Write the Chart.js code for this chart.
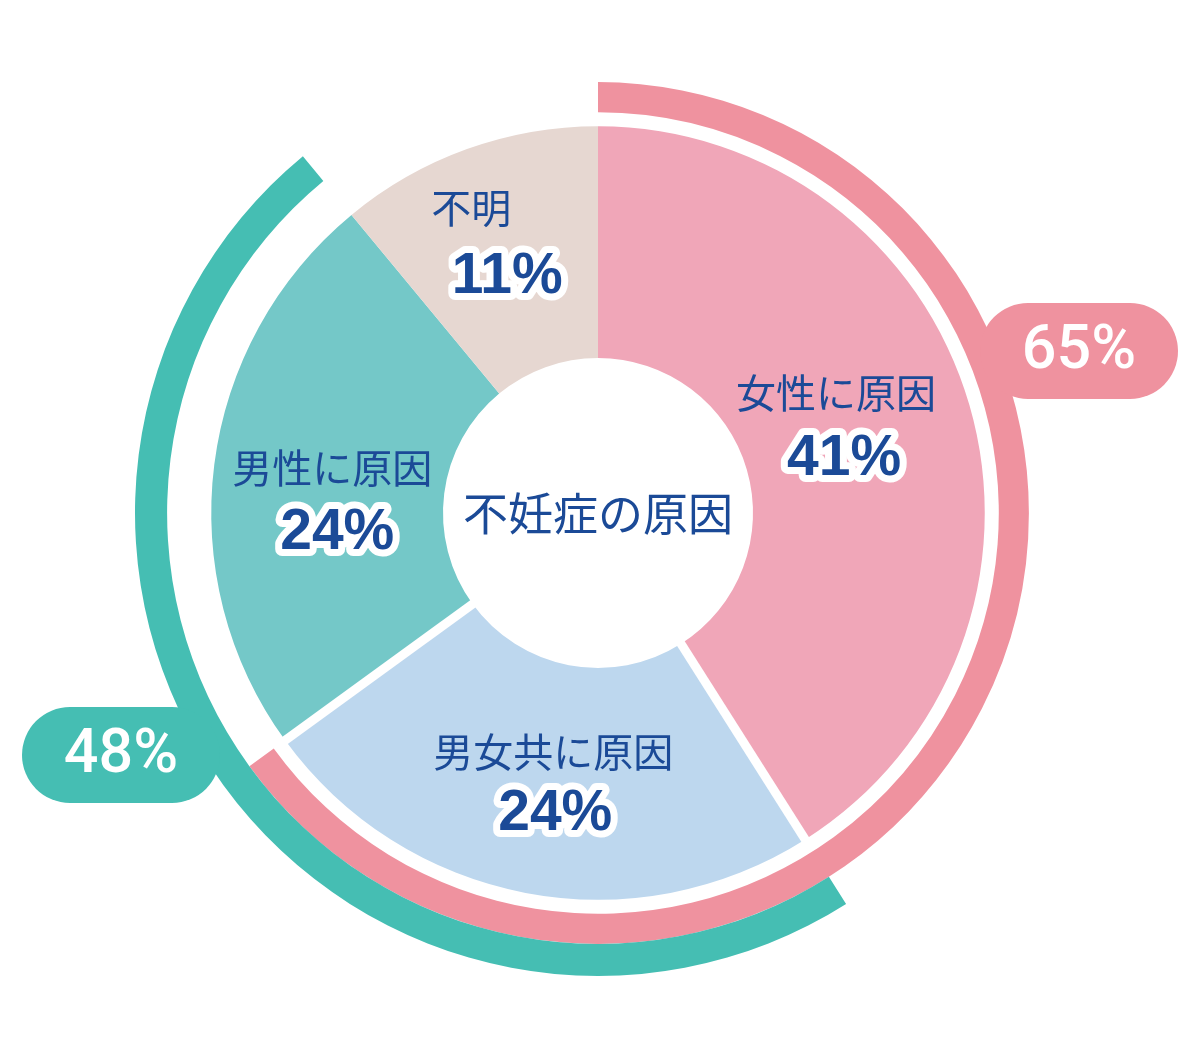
<!DOCTYPE html>
<html lang="ja">
<head>
<meta charset="utf-8">
<title>不妊症の原因</title>
<script src="https://cdn.jsdelivr.net/npm/chart.js@4"></script>
<style>
    html, body { margin: 0; padding: 0; background: #fff; }
    #wrap { width: 1200px; height: 1058px; }
</style>
</head>
<body>
<div id="wrap"><canvas id="causeChart" width="1200" height="1058"></canvas></div>
<script>
// Categories + shares (%)
const categories = ["女性に原因", "男女共に原因", "男性に原因", "不明"];
const shares = [41, 24, 24, 11];
const pctLabels = ["41%", "24%", "24%", "11%"];

// Outer arcs: totals that involve women / men
const groupNames = ["女性側", "男性側"];
const groupShares = [65, 48];
const groupLabels = ["65%", "48%"];
const groupFirstCategory = [0, 1]; // arc starts where this category starts

// Styling
const sliceColors = ["#F0A6B8", "#BDD7EE", "#74C8C8", "#E6D7D1"];
const groupColors = ["#EF929F", "#45BEB3"];
const textBlue = "#1B4A97";
const cjkFont = '"Noto Sans CJK JP", "Noto Sans", sans-serif';
const numFont = '"Liberation Sans", Arial, sans-serif';

// label offsets from each slice's mid point (px)
const labelOffsets = [[-22, -45], [6, -27], [3, -11], [-35, -50]];
const pctOffsets = [[-14, 20], [8, 33], [8, 52], [1, 17]];
// badge centres relative to the chart centre (px)
const badgeOffsets = [[481, -162], [-477, 242]];

function startDeg(catIndex) {
    let sum = 0;
    for (let i = 0; i < catIndex; i++) sum += shares[i];
    return sum * 3.6;
}

// white gaps either side of the "男女共に原因" slice
const separatorPlugin = {
    id: "separators",
    afterDatasetsDraw(chart) {
        const meta = chart.getDatasetMeta(3);
        const arc = meta.data[1];
        const ctx = chart.ctx;
        ctx.save();
        ctx.strokeStyle = "#fff";
        ctx.lineWidth = 9;
        [arc.startAngle, arc.endAngle].forEach(a => {
            ctx.beginPath();
            ctx.moveTo(arc.x + Math.cos(a) * (arc.innerRadius - 2), arc.y + Math.sin(a) * (arc.innerRadius - 2));
            ctx.lineTo(arc.x + Math.cos(a) * (arc.outerRadius + 3), arc.y + Math.sin(a) * (arc.outerRadius + 3));
            ctx.stroke();
        });
        ctx.restore();
    }
};

const labelPlugin = {
    id: "labels",
    afterDraw(chart) {
        const ctx = chart.ctx;
        const meta = chart.getDatasetMeta(3);
        const cx = meta.data[0].x, cy = meta.data[0].y;
        ctx.save();
        ctx.textAlign = "center";
        ctx.textBaseline = "middle";

        // slice labels
        meta.data.forEach((arc, i) => {
            const p = arc.tooltipPosition(true);
            ctx.font = "40px " + cjkFont;
            ctx.fillStyle = textBlue;
            ctx.fillText(categories[i], p.x + labelOffsets[i][0], p.y + labelOffsets[i][1]);

            ctx.font = "bold 57px " + numFont;
            ctx.lineJoin = "round";
            ctx.lineWidth = 14;
            ctx.strokeStyle = "#fff";
            const px = p.x + pctOffsets[i][0], py = p.y + pctOffsets[i][1] + 2;
            ctx.strokeText(pctLabels[i], px, py);
            ctx.fillText(pctLabels[i], px, py);
        });

        // centre title
        ctx.font = "45px " + cjkFont;
        ctx.fillStyle = textBlue;
        ctx.fillText("不妊症の原因", cx, cy + 1);

        // badges on the outer arcs
        const bw = 198, bh = 96;
        groupLabels.forEach((txt, g) => {
            const bx = cx + badgeOffsets[g][0], by = cy + badgeOffsets[g][1];
            ctx.fillStyle = groupColors[g];
            ctx.beginPath();
            ctx.roundRect(bx - bw / 2, by - bh / 2, bw, bh, bh / 2);
            ctx.fill();
            ctx.fillStyle = "#fff";
            ctx.font = "500 61px Roboto, " + numFont;
            ctx.fillText(txt, bx, by + 2);
        });
        ctx.restore();
    }
};

new Chart(document.getElementById("causeChart"), {
    type: "doughnut",
    data: {
        labels: categories,
        datasets: [
            {
                label: groupNames[1],
                data: [groupShares[1]],
                backgroundColor: groupColors[1],
                rotation: startDeg(groupFirstCategory[1]),
                circumference: groupShares[1] * 3.6,
                weight: 32
            },
            {
                label: groupNames[0],
                data: [groupShares[0]],
                backgroundColor: groupColors[0],
                rotation: startDeg(groupFirstCategory[0]),
                circumference: groupShares[0] * 3.6,
                weight: 30
            },
            {
                // empty spacer ring
                label: "",
                data: [1],
                backgroundColor: "rgba(0,0,0,0)",
                weight: 14
            },
            {
                label: "不妊症の原因",
                data: shares,
                backgroundColor: sliceColors,
                weight: 231
            }
        ]
    },
    options: {
        responsive: false,
        devicePixelRatio: 1,
        animation: false,
        events: [],
        cutout: 155,
        borderWidth: 0,
        datasets: { doughnut: { borderWidth: 0 } },
        layout: { padding: { top: 50, bottom: 82, left: 0, right: 4 } },
        plugins: {
            legend: { display: false },
            tooltip: { enabled: false }
        }
    },
    plugins: [separatorPlugin, labelPlugin]
});
</script>
</body>
</html>
